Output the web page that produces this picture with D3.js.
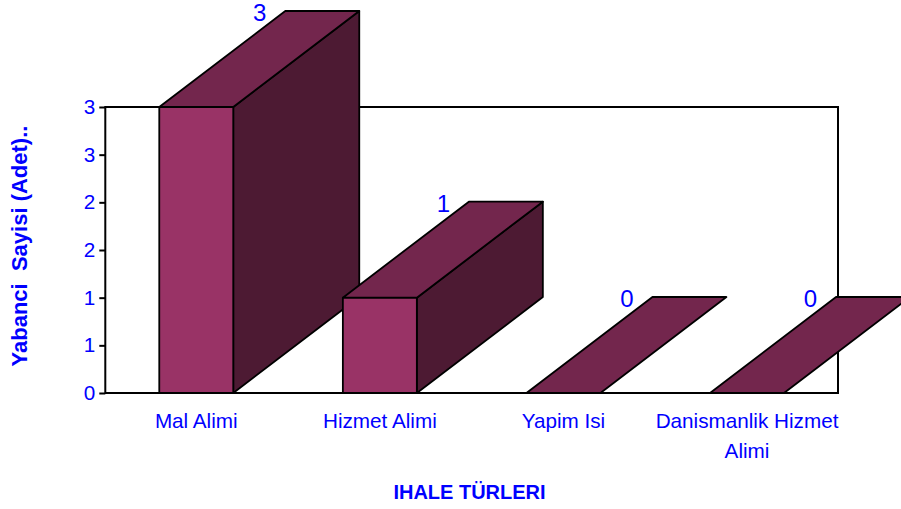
<!DOCTYPE html>
<html lang="en">
<head>
  <meta charset="UTF-8">
  <title>Ihale Türleri</title>
  <style>
    html, body { margin: 0; padding: 0; background: #fff; }
    svg { display: block; }
    text { font-family: "Liberation Sans", Arial, sans-serif; fill: #0000ff; }
  </style>
  <script src="https://d3js.org/d3.v7.min.js"></script>
</head>
<body>
  <div id="chart"></div>
  <script>
    var categories = ['Mal Alimi', 'Hizmet Alimi', 'Yapim Isi', 'Danismanlik Hizmet Alimi'];
    var categoryLines = [['Mal Alimi'], ['Hizmet Alimi'], ['Yapim Isi'], ['Danismanlik Hizmet', 'Alimi']];
    var values = [3, 1, 0, 0];
    var valueLabels = ['3', '1', '0', '0'];
    var tickValues = [0, 0.5, 1, 1.5, 2, 2.5, 3];
    var tickLabels = ['0', '1', '1', '2', '2', '3', '3'];

    var width = 901, height = 509;
    var plotLeft = 105.3, plotRight = 838, plotTop = 107, plotBottom = 393;
    var depthX = 126, depthY = 96; // schraege der 3D-Balken

    var svg = d3.select('#chart').append('svg')
      .attr('width', width)
      .attr('height', height);

    var xScale = d3.scaleBand()
      .domain(categories)
      .range([plotLeft, plotRight])
      .paddingInner(0.597)
      .paddingOuter(0.294);

    var yScale = d3.scaleLinear()
      .domain([0, 3])
      .range([plotBottom, plotTop]);

    // Rahmen
    svg.append('rect')
      .attr('x', plotLeft)
      .attr('y', plotTop)
      .attr('width', plotRight - plotLeft)
      .attr('height', plotBottom - plotTop)
      .attr('fill', '#fff')
      .attr('stroke', '#000')
      .attr('stroke-width', 2);

    var yAxis = d3.axisLeft(yScale)
      .tickValues(tickValues)
      .tickSize(6)
      .tickPadding(4)
      .tickFormat(function(d, i) { return tickLabels[i]; });

    var yAxisG = svg.append('g')
      .attr('transform', 'translate(' + plotLeft + ',0)')
      .call(yAxis);
    yAxisG.select('.domain').remove();
    yAxisG.selectAll('line').attr('stroke', '#000').attr('stroke-width', 2);
    yAxisG.selectAll('text').attr('font-size', 20.7).attr('fill', '#0000ff');
    yAxisG.attr('font-family', null);

    // Balken
    var bars = svg.selectAll('.bar')
      .data(categories)
      .enter()
      .append('g')
      .attr('class', 'bar')
      .attr('stroke', '#000')
      .attr('stroke-width', 1.8)
      .attr('stroke-linejoin', 'round');

    function poly(points) {
      return d3.line()(points) + 'Z';
    }

    bars.each(function(d, i) {
      var g = d3.select(this);
      var x0 = xScale(d);
      var x1 = x0 + xScale.bandwidth();
      var y0 = yScale(0);
      var y1 = yScale(values[i]);

      if (values[i] > 0) {
        g.append('path')
          .attr('fill', '#4d1a33')
          .attr('d', poly([[x1, y0], [x1 + depthX, y0 - depthY], [x1 + depthX, y1 - depthY], [x1, y1]]));
        g.append('path')
          .attr('fill', '#993366')
          .attr('d', poly([[x0, y0], [x1, y0], [x1, y1], [x0, y1]]));
      }
      g.append('path')
        .attr('fill', '#73264d')
        .attr('d', poly([[x0, y1], [x1, y1], [x1 + depthX, y1 - depthY], [x0 + depthX, y1 - depthY]]));
    });

    // Werte ueber den Balken
    svg.selectAll('.value')
      .data(categories)
      .enter()
      .append('text')
      .attr('class', 'value')
      .attr('x', function(d) { return xScale(d) + xScale.bandwidth() / 2 + 63.5; })
      .attr('y', function(d, i) { return yScale(values[i]) - depthY + 10; })
      .attr('text-anchor', 'middle')
      .attr('font-size', 24)
      .text(function(d, i) { return valueLabels[i]; });

    // Kategorien
    var catLabels = svg.selectAll('.cat')
      .data(categories)
      .enter()
      .append('text')
      .attr('class', 'cat')
      .attr('text-anchor', 'middle')
      .attr('font-size', 20.7);

    catLabels.each(function(d, i) {
      var t = d3.select(this);
      categoryLines[i].forEach(function(line, j) {
        t.append('tspan')
          .attr('x', xScale(d) + xScale.bandwidth() / 2)
          .attr('y', 428 + j * 30)
          .text(line);
      });
    });

    // Achsentitel
    svg.append('text')
      .attr('x', 469.5)
      .attr('y', 499)
      .attr('text-anchor', 'middle')
      .attr('font-size', 20)
      .attr('font-weight', 'bold')
      .text('IHALE TÜRLERI');

    svg.append('text')
      .attr('transform', 'translate(27,246) rotate(-90)')
      .attr('text-anchor', 'middle')
      .attr('font-size', 22)
      .attr('font-weight', 'bold')
      .style('white-space', 'pre')
      .text('Yabanci  Sayisi (Adet)..');
  </script>
</body>
</html>
